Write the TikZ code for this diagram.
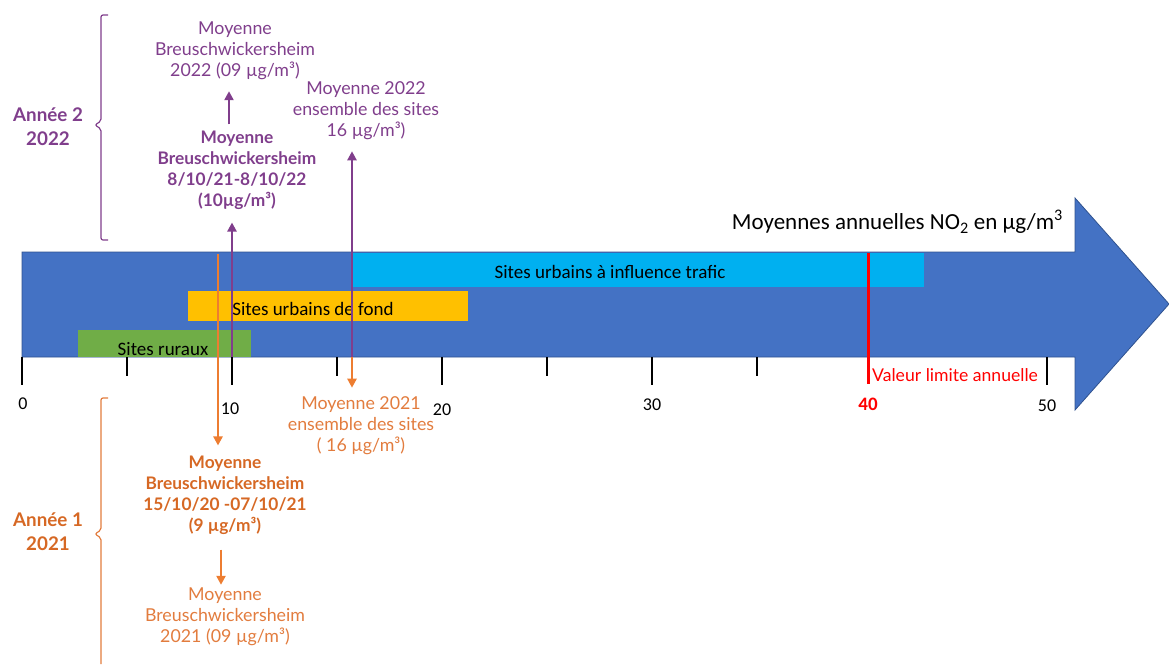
\documentclass[tikz,border=0pt]{standalone}
\usepackage{fontspec}
\setmainfont{Lato}
\newfontfamily\calib{Carlito}
\usetikzlibrary{arrows.meta}
\definecolor{flechebleue}{HTML}{4472C4}
\definecolor{bordbleu}{HTML}{2F528F}
\definecolor{trafic}{HTML}{00B0F0}
\definecolor{fond}{HTML}{FFC000}
\definecolor{rural}{HTML}{70AD47}
\definecolor{violet22}{RGB}{128,62,140}
\definecolor{orange21}{RGB}{214,104,36}
\definecolor{orangeclair}{RGB}{226,124,62}
\definecolor{orangetrait}{HTML}{ED7D31}
\begin{document}
\begin{tikzpicture}
    [x=1pt,y=-1pt,
     lbl/.style={align=center,inner sep=1pt,font=\fontsize{17.8}{21}\selectfont},
     lblb/.style={lbl,font=\fontsize{17.3}{21}\selectfont\bfseries},
     annee/.style={align=center,inner sep=1pt,font=\fontsize{18.8}{24}\selectfont\bfseries},
     bartxt/.style={inner sep=0pt,font=\calib\fontsize{19}{20}\selectfont},
     axtxt/.style={inner sep=0pt,font=\calib\fontsize{18}{18}\selectfont},
     pline/.style={draw=violet22,line width=2.4pt,-{Triangle[length=9pt,width=9pt]}},
     oline/.style={draw=orangetrait,line width=2.4pt,-{Triangle[length=9pt,width=9pt]}},
     tick/.style={line width=2pt},
     accol/.style={line width=1.2pt,rounded corners=2pt}]
    \useasboundingbox (0,0) rectangle (1169,664);
    \filldraw[fill=flechebleue,draw=bordbleu,line width=0.8pt]
      (22,252) -- (1075,252) -- (1075,198) -- (1169,304) -- (1075,410) -- (1075,357) -- (22,357) -- cycle;
    \fill[trafic] (352,253) rectangle (924,287);
    \fill[fond] (188,291) rectangle (468,321);
    \fill[rural] (78,330) rectangle (251,357);
    \node[bartxt] (btraf) at (610,272) {Sites urbains à influence trafic};
    \node[bartxt] (bfond) at (313,309) {Sites urbains de fond};
    \node[bartxt] (brur) at (163,349) {Sites ruraux};
    \node[anchor=east,inner sep=0pt,font=\calib\fontsize{23}{24}\selectfont] (titre)
      at (1063,222) {Moyennes annuelles NO\textsubscript{2} en µg/m\textsuperscript{3}};
    \foreach \x/\l in {22/385,127/376,232/385,337/376,442/385,547/376,652/385,757/376,1047/385}
      \draw[tick] (\x,357) -- (\x,\l);
    \foreach \x/\y/\t in {23/404/0,230/409/10,442/410/20,652/405/30,1047/406/50}
      \node[axtxt] (n\t) at (\x,\y) {\t};
    \draw[red,line width=3pt] (868,253) -- (868,384);
    \node[axtxt,text=red,font=\calib\fontsize{19}{18}\selectfont\bfseries] (n40) at (868,404) {40};
    \node[axtxt,text=red,anchor=west,font=\fontsize{17.6}{18}\selectfont] (limite) at (872,375) {Valeur limite annuelle};
    \node[annee,text=violet22] (an2) at (48,127) {Année 2\\2022};
    \node[lbl,text=violet22] (mr22) at (235,51) {Moyenne\\Breuschwickersheim\\2022 (09 µg/m³)};
    \node[lblb,text=violet22] (mb22) at (237,170) {Moyenne\\Breuschwickersheim\\8/10/21-8/10/22\\(10µg/m³)};
    \node[lbl,text=violet22] (ens22) at (366,111) {Moyenne 2022\\ensemble des sites\\16 µg/m³)};
    \node[annee,text=orange21] (an1) at (48,532) {Année 1\\2021};
    \node[lblb,text=orange21] (mb21) at (225,495) {Moyenne\\Breuschwickersheim\\15/10/20 -07/10/21\\(9 µg/m³)};
    \node[lbl,text=orangeclair] (mr21) at (225,617) {Moyenne\\Breuschwickersheim\\2021 (09 µg/m³)};
    \node[lbl,text=orangeclair] (ens21) at (361,426) {Moyenne 2021\\ensemble des sites\\( 16 µg/m³)};
    \coordinate (p10) at (232,357);
    \coordinate (p16) at (352,357);
    \coordinate (o9) at (218,254);
    \coordinate (pm) at (229,0);
    \coordinate (om) at (221,0);
    \draw[oline,shorten >=9pt] (o9) -- (o9 |- mb21.north);
    \draw[pline,shorten >=12pt] (p10) -- (p10 |- mb22.south);
    \draw[pline,shorten >=10pt] (p16) -- (p16 |- ens22.south);
    \draw[oline,shorten >=8pt] (p16) -- (p16 |- ens21.north);
    \draw[pline,shorten <=5pt,shorten >=10pt] (pm |- mb22.north) -- (pm |- mr22.south);
    \draw[oline,shorten <=14pt,shorten >=2pt] (om |- mb21.south) -- (om |- mr21.north);
    \draw[accol,violet22] (108,15) -- (101,15) -- (101,121) -- (95,125) -- (101,129) -- (101,240) -- (108,240);
    \draw[accol,orangeclair] (108,398) -- (101,398) -- (101,530) -- (95,534) -- (101,538) -- (101,664);
\end{tikzpicture}
\end{document}
